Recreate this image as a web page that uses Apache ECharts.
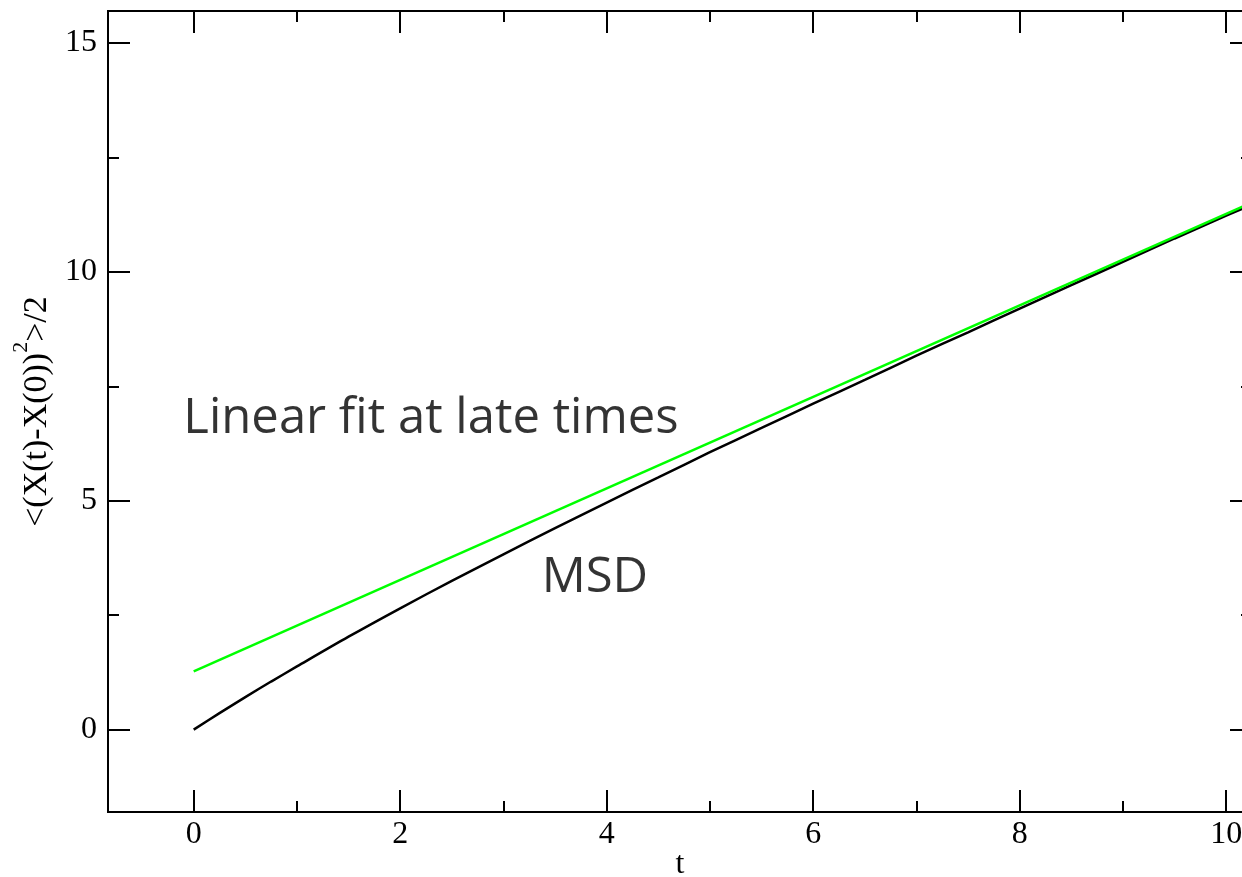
<!DOCTYPE html>
<html>
<head>
<meta charset="utf-8">
<script src="https://cdn.jsdelivr.net/npm/echarts@6/dist/echarts.min.js"></script>
<style>
  html, body { margin: 0; padding: 0; background: #fff; }
  #chart { width: 1242px; height: 877px; }
</style>
</head>
<body>
<div id="chart"></div>
<script>
// MSD curve
const times = [0, 0.25, 0.5, 0.75, 1, 1.5, 2, 2.5, 3, 3.5, 4, 4.5, 5, 5.5, 6, 6.5, 7, 7.5, 8, 8.5, 9, 9.5, 10, 10.25]
const msd = [0, 0.36, 0.71, 1.05, 1.38, 2.03, 2.65, 3.25, 3.83, 4.40, 4.96, 5.51, 6.06, 6.59, 7.12, 7.64, 8.17, 8.68, 9.20, 9.71, 10.22, 10.73, 11.23, 11.47]

// linear fit at late times
const fitTimes = [0, 10.25]
const fitValues = [1.27, 11.52]

const xMajorTicks = [0, 2, 4, 6, 8, 10]
const xMinorTicks = [1, 3, 5, 7, 9]
const yMajorTicks = [0, 5, 10, 15]
const yMinorTicks = [2.5, 7.5, 12.5]

const notes = ['Linear fit at late times', 'MSD']
const noteX = [-0.1, 3.37]
const noteY = [6.79, 3.31]

const serif = '"Liberation Serif", "Times New Roman", serif'
const X_MIN = -0.83, X_MAX = 10.25
const Y_MIN = -1.8, Y_MAX = 15.7

const chart = echarts.init(document.getElementById('chart'))

const tickAxis = (position, min, max, ticks, len, opts = {}) => ({
  type: 'value',
  position,
  min,
  max,
  splitLine: { show: false },
  axisLine: { show: true, onZero: false, lineStyle: { color: '#000', width: 2 } },
  axisTick: {
    show: true,
    inside: true,
    length: len,
    customValues: ticks,
    lineStyle: { color: '#000', width: 2 }
  },
  axisLabel: { show: false },
  ...opts
})

const option = {
  animation: false,
  backgroundColor: '#fff',
  grid: { left: 108, top: 11, right: -10, bottom: 65, containLabel: false, outerBoundsMode: 'none' },
  xAxis: [
    tickAxis('bottom', X_MIN, X_MAX, xMajorTicks, 22, {
      name: 't',
      nameLocation: 'middle',
      nameGap: 37,
      nameMoveOverlap: false,
      nameTextStyle: { fontFamily: serif, fontSize: 32, color: '#000' },
      axisLabel: {
        show: true,
        customValues: xMajorTicks,
        margin: 7,
        fontFamily: serif,
        fontSize: 32,
        color: '#000'
      }
    }),
    tickAxis('bottom', X_MIN, X_MAX, xMinorTicks, 11),
    tickAxis('top', X_MIN, X_MAX, xMajorTicks, 22),
    tickAxis('top', X_MIN, X_MAX, xMinorTicks, 11)
  ],
  yAxis: [
    tickAxis('left', Y_MIN, Y_MAX, yMajorTicks, 22, {
      name: '{m|<(X(t)-X(0))}{sup|2}{m|>/2}',
      nameLocation: 'middle',
      nameGap: 26,
      nameTextStyle: {
        fontFamily: serif,
        fontSize: 34,
        color: '#000',
        rich: {
          m: { fontFamily: serif, fontSize: 34, color: '#000', verticalAlign: 'bottom' },
          sup: { fontFamily: serif, fontSize: 22, color: '#000', verticalAlign: 'top', padding: [0, 0, 22, 0] }
        }
      },
      axisLabel: {
        show: true,
        customValues: yMajorTicks,
        margin: 11,
        fontFamily: serif,
        fontSize: 32,
        color: '#000'
      }
    }),
    tickAxis('left', Y_MIN, Y_MAX, yMinorTicks, 11),
    tickAxis('right', Y_MIN, Y_MAX, yMajorTicks, 22),
    tickAxis('right', Y_MIN, Y_MAX, yMinorTicks, 11)
  ],
  series: [
    {
      name: 'MSD',
      type: 'line',
      data: times.map((t, i) => [t, msd[i]]),
      showSymbol: false,
      smooth: 0.3,
      lineStyle: { color: '#000', width: 2.5 }
    },
    {
      name: 'fit',
      type: 'line',
      data: fitTimes.map((t, i) => [t, fitValues[i]]),
      showSymbol: false,
      lineStyle: { color: '#00ff00', width: 2.5 }
    },
    {
      name: 'notes',
      type: 'scatter',
      symbolSize: 0,
      silent: true,
      data: notes.map((n, i) => [noteX[i], noteY[i], n]),
      label: {
        show: true,
        position: 'right',
        distance: 0,
        formatter: p => p.value[2],
        fontFamily: '"Open Sans", "Liberation Sans", sans-serif',
        fontSize: 49,
        color: '#000'
      }
    }
  ]
}

chart.setOption(option)
window.addEventListener('resize', () => chart.resize())
</script>
</body>
</html>
